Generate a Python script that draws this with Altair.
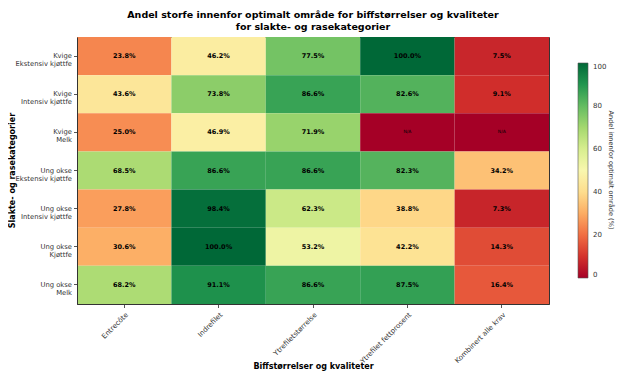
import altair as alt
import pandas as pd

columns = ["Entrecôte", "Indrefilet", "Ytrefiletstørrelse", "Ytrefilet fettprosent", "Kombinert alle krav"]
rows = [
    "Kvige|Ekstensiv kjøttfe",
    "Kvige|Intensiv kjøttfe",
    "Kvige|Melk",
    "Ung okse|Ekstensiv kjøttfe",
    "Ung okse|Intensiv kjøttfe",
    "Ung okse|Kjøttfe",
    "Ung okse|Melk",
]
values = [
    [23.8, 46.2, 77.5, 100.0, 7.5],
    [43.6, 73.8, 86.6, 82.6, 9.1],
    [25.0, 46.9, 71.9, None, None],
    [68.5, 86.6, 86.6, 82.3, 34.2],
    [27.8, 98.4, 62.3, 38.8, 7.3],
    [30.6, 100.0, 53.2, 42.2, 14.3],
    [68.2, 91.1, 86.6, 87.5, 16.4],
]
colorbar_ticks = [0, 20, 40, 60, 80, 100]

recs = []
for r, vals in zip(rows, values):
    for c, v in zip(columns, vals):
        recs.append({
            "row": r,
            "col": c,
            "val": 0.0 if v is None else v,
            "label": "N/A" if v is None else f"{v:.1f}%",
            "na": v is None,
        })
df = pd.DataFrame(recs)

FONT = "DejaVu Sans"

base = alt.Chart(df).encode(
    x=alt.X("col:N", sort=columns,
            axis=alt.Axis(title="Biffstørrelser og kvaliteter", labelAngle=-45, labelAlign="right",
                          labelBaseline="top", labelFontSize=7, labelColor="#333",
                          labelPadding=3, tickSize=3.5, tickColor="#555", domainColor="#333",
                          titleFontSize=8, titleFontWeight="bold", titleColor="black",
                          titleY=62, titleBaseline="middle", labelFont=FONT, titleFont=FONT)),
    y=alt.Y("row:N", sort=rows,
            axis=alt.Axis(title="Slakte- og rasekategorier", labelExpr="split(datum.label, '|')",
                          labelFontSize=6.8, labelLineHeight=8, labelColor="#333", tickSize=3.5,
                          tickColor="#555", labelPadding=2,
                          domainColor="#333", titleFontSize=8, titleFontWeight="bold",
                          titleColor="black", labelFont=FONT, titleFont=FONT,
                          titleX=-65, titleY=133, titleAlign="center", titleBaseline="middle")),
)

rect = base.mark_rect().encode(
    color=alt.Color("val:Q",
                    scale=alt.Scale(scheme="redyellowgreen", domain=[0, 100]),
                    legend=alt.Legend(title=None, orient="none", legendX=501, legendY=26,
                                      gradientLength=215, gradientThickness=10,
                                      values=colorbar_ticks, labelFontSize=7, labelColor="#333",
                                      labelFont=FONT, gradientStrokeColor="#555",
                                      gradientStrokeWidth=0.6, padding=0, labelOffset=5))
)

txt_num = base.mark_text(fontSize=6.5, fontWeight="bold", font=FONT, color="black").encode(
    text="label:N"
).transform_filter("!datum.na")

txt_na = base.mark_text(fontSize=4.5, font=FONT, color="black").encode(
    text="label:N"
).transform_filter("datum.na")

cb_title = alt.Chart(pd.DataFrame({"t": ["Andel innenfor optimalt område (%)"]})).mark_text(
    angle=90, fontSize=6.6, font=FONT, color="#333", baseline="middle", align="center"
).encode(text="t:N", x=alt.value(534), y=alt.value(133))

chart = alt.layer(rect, txt_num, txt_na, cb_title).properties(
    width=472, height=267,
    title=alt.TitleParams(
        text=["Andel storfe innenfor optimalt område for biffstørrelser og kvaliteter",
              "for slakte- og rasekategorier"],
        fontSize=9.5, fontWeight="bold", font=FONT, color="black", anchor="middle", offset=6,
        lineHeight=11.5),
    autosize=alt.AutoSizeParams(type="none"),
    padding={"left": 69, "top": 29, "right": 67, "bottom": 69},
).configure_view(stroke="#333", strokeWidth=1)

chart.save("out.html", embed_options={"renderer": "svg", "actions": False})
